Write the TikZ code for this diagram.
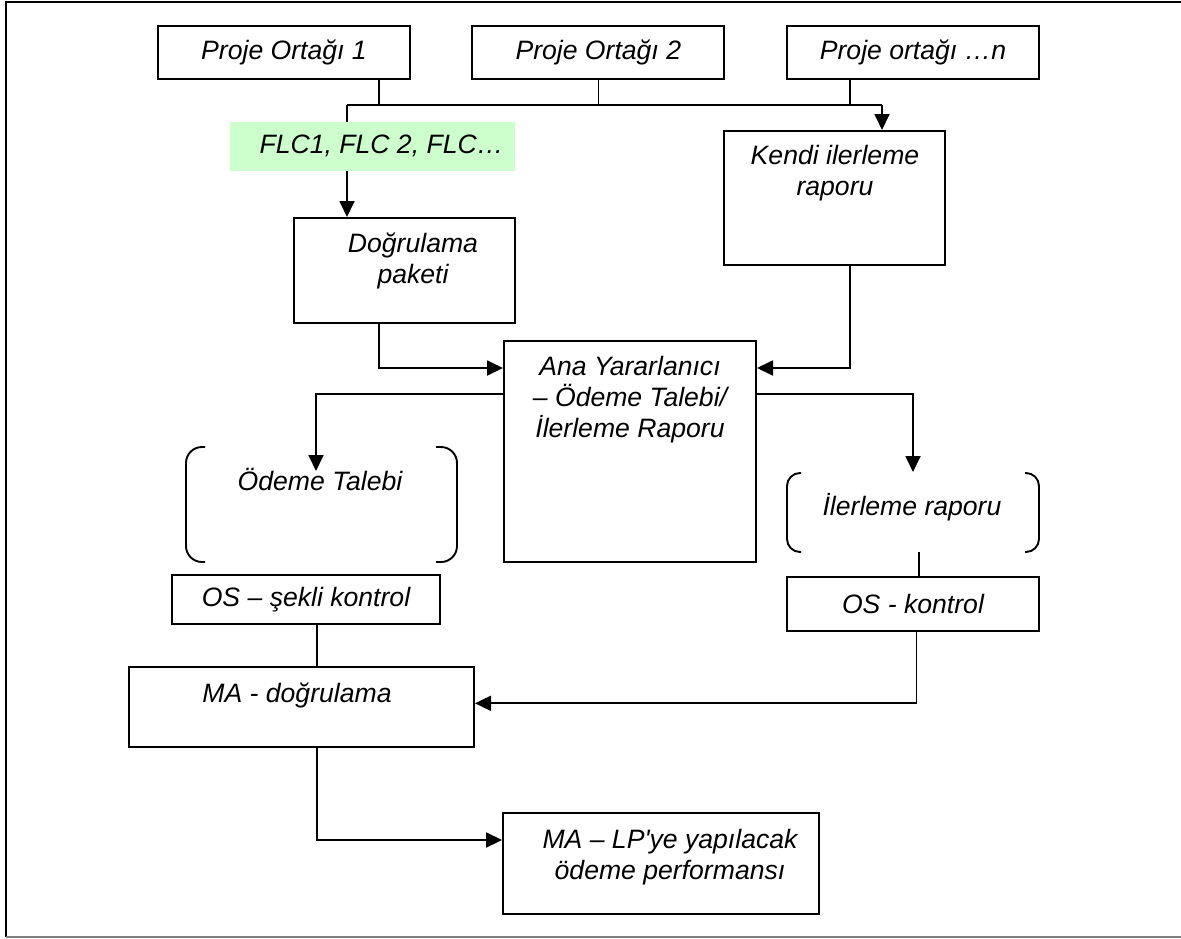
\documentclass[tikz,border=0pt]{standalone}
\usepackage{fontspec}
\setmainfont{Liberation Sans}
\usetikzlibrary{arrows.meta}
\definecolor{flcgreen}{RGB}{204,255,204}
\begin{document}
\begin{tikzpicture}[x=1pt,y=-1pt,
  box/.style={draw,line width=2pt,inner sep=0pt,font=\fontsize{26.6}{31}\selectfont\itshape},
  txt/.style={inner sep=0pt,align=center,font=\fontsize{26.6}{31}\selectfont\itshape},
  conn/.style={line width=1.8pt},
  arr/.style={line width=1.8pt,-{Triangle[length=16pt,width=15pt]}},
  brk/.style={line width=1.9pt,rounded corners=16pt}]
\useasboundingbox (0,0) rectangle (1181,938);
% frame
\draw[line width=1.8pt] (1181,2) -- (6,2) -- (6,937);
\draw[line width=1.8pt,gray] (6,937) -- (1181,937);

% top partner boxes
\node[box,minimum width=252pt,minimum height=53pt] (po1) at (284,52.5) {Proje Ortağı 1};
\node[box,minimum width=252pt,minimum height=53pt] (po2) at (598.3,52.5) {Proje Ortağı 2};
\node[box,minimum width=252pt,minimum height=53pt] (pon) at (913,52.5) {Proje ortağı …n};

% FLC label
\node[fill=flcgreen,minimum width=285pt,minimum height=49pt,inner sep=0pt] (flc) at (372.5,146.5) {};
\node[txt] (flct) at (381.5,146) {FLC1, FLC 2, FLC…};

% Doğrulama paketi
\node[box,minimum width=221pt,minimum height=105pt] (dog) at (404.5,270.5) {};
\node[txt] (dogt) at (413,261) {Doğrulama\\paketi};

% Kendi ilerleme raporu
\node[box,minimum width=221pt,minimum height=134pt] (ken) at (834.5,198) {};
\node[txt] (kent) at (835,173.5) {Kendi ilerleme\\raporu};

% Ana Yararlanıcı
\node[box,minimum width=252pt,minimum height=221pt] (ana) at (630,451.5) {};
\node[txt] (anat) at (630,400) {Ana Yararlanıcı\\– Ödeme Talebi/\\İlerleme Raporu};

% Ödeme Talebi bracket
\node[txt] (ode) at (320,479) {Ödeme Talebi};
\draw[brk] (205,447) -- (186,447) -- (186,562) -- (205,562);
\draw[brk] (436,447) -- (457,447) -- (457,562) -- (436,562);

% İlerleme raporu bracket
\node[txt] (iler) at (912,507) {İlerleme raporu};
\draw[brk,rounded corners=13pt] (801,473) -- (787,473) -- (787,552) -- (801,552);
\draw[brk,rounded corners=13pt] (1025,473) -- (1039,473) -- (1039,552) -- (1025,552);

% OS boxes
\node[box,minimum width=268.5pt,minimum height=49pt] (os1) at (306,599.5) {OS – şekli kontrol};
\node[box,minimum width=252pt,minimum height=54pt] (os2) at (913,604) {OS - kontrol};

% MA - doğrulama
\node[box,minimum width=345pt,minimum height=80pt] (mad) at (301.5,707) {};
\node[txt] (madt) at (297,695) {MA - doğrulama};

% MA - LP
\node[box,minimum width=315.5pt,minimum height=101pt] (malp) at (660.8,863.5) {};
\node[txt] (malpt) at (670,857) {MA – LP\textquotesingle ye yapılacak\\ödeme performansı};

% coordinates for connector routing
\coordinate (bL) at (347,105);
\coordinate (bR) at (882,105);
\coordinate (s1) at (379,105);
\coordinate (s2) at (598.4,105);
\coordinate (s3) at (850.2,105);
\coordinate (j1) at (379,368);
\coordinate (j2) at (850.2,368);
\coordinate (j3) at (316,394);
\coordinate (t3) at (316,471);
\coordinate (j4) at (913,394);
\coordinate (t4) at (913,472);
\coordinate (ib) at (918.7,552);
\coordinate (c1) at (317,624);
\coordinate (j5) at (916.5,703.3);
\coordinate (j6) at (317,840);

% bus
\draw[conn] (po1.south -| s1) -- (s1);
\draw[conn] (po2.south -| s2) -- (s2);
\draw[conn] (pon.south -| s3) -- (s3);
\draw[conn] (bL) -- (bR);
\draw[conn] (bL) -- (flc.north -| bL);
\draw[arr] (flc.south -| bL) -- (dog.north -| bL);
\draw[arr] (bR) -- (ken.north -| bR);

% into Ana
\draw[arr] (dog.south -| j1) -- (j1) -- (ana.west |- j1);
\draw[arr] (ken.south -| j2) -- (j2) -- (ana.east |- j2);

% out of Ana
\draw[arr] (ana.west |- j3) -- (j3) -- (t3);
\draw[arr] (ana.east |- j4) -- (j4) -- (t4);

% lower part
\draw[conn] (ib) -- (os2.north -| ib);
\draw[conn] (os1.south -| c1) -- (mad.north -| c1);
\draw[arr] (os2.south -| j5) -- (j5) -- (mad.east |- j5);
\draw[arr] (mad.south -| j6) -- (j6) -- (malp.west |- j6);
\end{tikzpicture}
\end{document}
